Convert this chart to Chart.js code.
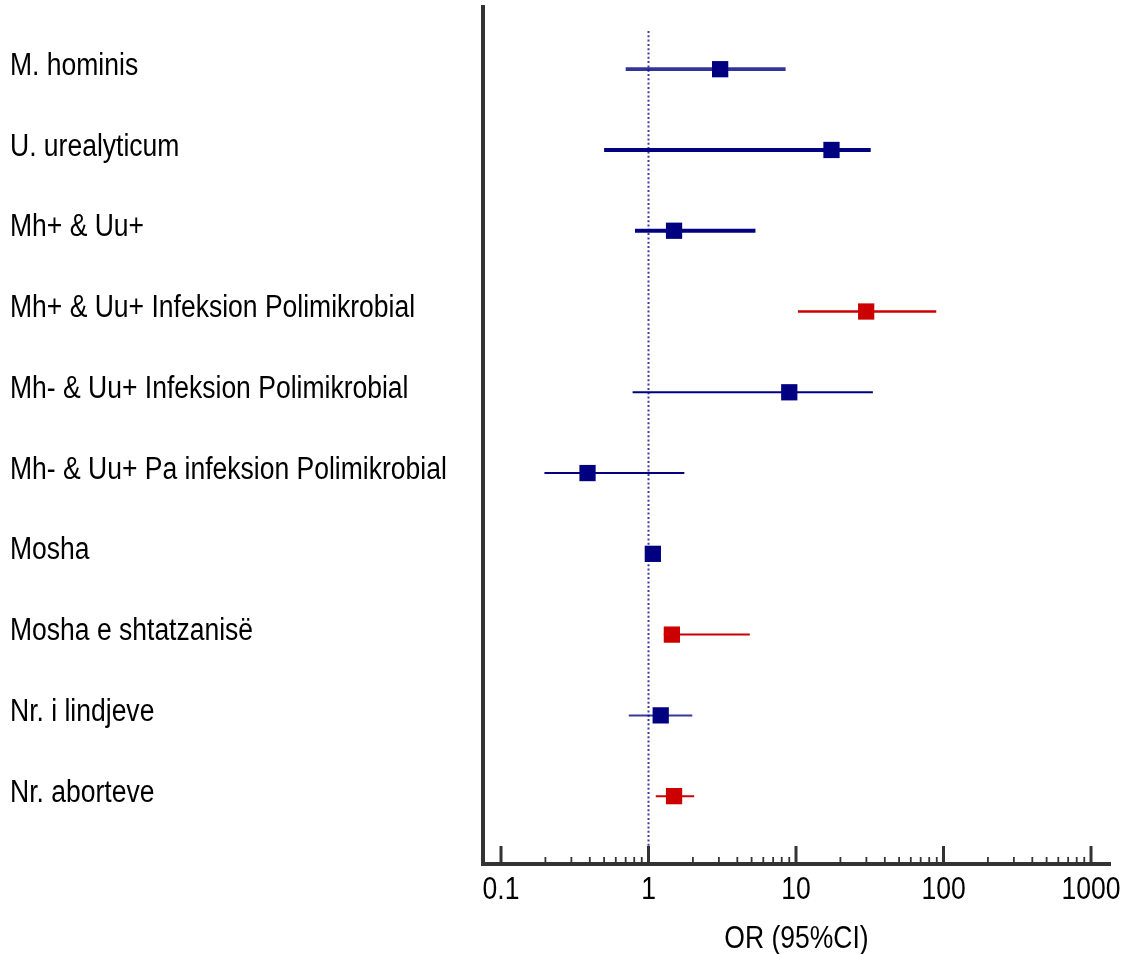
<!DOCTYPE html>
<html>
<head>
<meta charset="utf-8">
<script src="https://cdn.jsdelivr.net/npm/chart.js@4.4.1/dist/chart.umd.min.js"></script>
<style>
  body { margin: 0; background: #fff; }
  #wrap { width: 1126px; height: 954px; }
</style>
</head>
<body>
<div id="wrap"><canvas id="forestChart" width="1126" height="954"></canvas></div>
<script>
// Rows, top to bottom
const categories = [
    'M. hominis',
    'U. urealyticum',
    'Mh+ & Uu+',
    'Mh+ & Uu+ Infeksion Polimikrobial',
    'Mh- & Uu+ Infeksion Polimikrobial',
    'Mh- & Uu+ Pa infeksion Polimikrobial',
    'Mosha',
    'Mosha e shtatzanisë',
    'Nr. i lindjeve',
    'Nr. aborteve'
];
const oddsRatio = [3.06, 17.4, 1.49, 29.9, 9.0, 0.386, 1.07, 1.44, 1.21, 1.49];
const ciLower   = [0.70, 0.50, 0.81, 10.3, 0.78, 0.197, 1.03, 1.27, 0.735, 1.12];
const ciUpper   = [8.5, 32.1, 5.31, 89.3, 33.2, 1.75, 1.12, 4.86, 1.98, 2.04];
const significant = [false, false, false, true, false, false, false, true, false, true];
const xTicks = [0.1, 1, 10, 100, 1000];
const xTitle = 'OR (95%CI)';

// styles
const NAVY = '#000080';
const RED = '#cc0000';
const lineColors = ['rgba(0,0,128,0.8)', NAVY, NAVY, RED, NAVY, NAVY, NAVY, RED, 'rgba(0,0,128,0.78)', RED];
const lineWidths = [3.7, 4, 4, 2.4, 2, 2, 2, 2, 2, 2];
const FONT = '31px "Liberation Sans", Arial, sans-serif';
const NARROW = 0.855; // the original uses a condensed face

function narrowText(ctx, text, x, y, align) {
    ctx.save();
    ctx.translate(x, y);
    ctx.scale(NARROW, 1);
    ctx.font = FONT;
    ctx.fillStyle = '#000';
    ctx.textAlign = align;
    ctx.textBaseline = 'middle';
    ctx.fillText(text, 0, 0);
    ctx.restore();
}

// tick marks pointing up, dotted line at OR = 1, and the condensed labels
const forestDecor = {
    id: 'forestDecor',
    beforeDatasetsDraw(chart) {
        const ctx = chart.ctx;
        const x = chart.scales.x;
        const area = chart.chartArea;
        ctx.save();
        ctx.strokeStyle = '#3c3ca0';
        ctx.lineWidth = 2;
        ctx.setLineDash([2, 2.3]);
        ctx.beginPath();
        ctx.moveTo(x.getPixelForValue(1), area.top + 24);
        ctx.lineTo(x.getPixelForValue(1), area.bottom - 2);
        ctx.stroke();
        ctx.restore();
    },
    afterDraw(chart) {
        const ctx = chart.ctx;
        const x = chart.scales.x;
        const y = chart.scales.y;
        const base = chart.chartArea.bottom;
        ctx.save();
        ctx.strokeStyle = '#333';
        xTicks.forEach(function(t, i) {
            ctx.lineWidth = 3;
            let px = x.getPixelForValue(t);
            ctx.beginPath();
            ctx.moveTo(px, base);
            ctx.lineTo(px, base - 18);
            ctx.stroke();
            narrowText(ctx, String(t), px, base + 26, 'center');
            if (i === xTicks.length - 1) return;
            ctx.lineWidth = 1.8;
            for (let m = 2; m <= 9; m++) {
                px = x.getPixelForValue(t * m);
                ctx.beginPath();
                ctx.moveTo(px, base);
                ctx.lineTo(px, base - 7);
                ctx.stroke();
            }
        });
        ctx.restore();

        categories.forEach(function(c, i) {
            narrowText(ctx, c, y.left, y.getPixelForValue(i + 1) - 3, 'left');
        });
        narrowText(ctx, xTitle, (x.left + x.right) / 2, base + 75, 'center');
    }
};

const datasets = [{
    type: 'scatter',
    data: oddsRatio.map((v, i) => ({ x: v, y: i + 1 })),
    pointStyle: 'rect',
    pointRadius: 11.5,
    pointHoverRadius: 11.5,
    backgroundColor: significant.map(s => s ? RED : NAVY),
    borderWidth: 0
}];
categories.forEach(function(c, i) {
    datasets.push({
        type: 'line',
        data: [{ x: ciLower[i], y: i + 1 }, { x: ciUpper[i], y: i + 1 }],
        borderColor: lineColors[i],
        borderWidth: lineWidths[i],
        pointRadius: 0,
        fill: false
    });
});

new Chart(document.getElementById('forestChart'), {
    type: 'scatter',
    data: { datasets: datasets },
    plugins: [forestDecor],
    options: {
        responsive: false,
        animation: false,
        layout: { autoPadding: false, padding: { left: 10, top: 7, right: 16, bottom: 0 } },
        plugins: { legend: { display: false }, tooltip: { enabled: false } },
        scales: {
            x: {
                type: 'logarithmic',
                min: 0.0755,
                max: 1345,
                afterFit: function(scale) { scale.height = 90; },
                grid: { display: false },
                border: { display: true, color: '#333', width: 4 },
                ticks: { display: false }
            },
            y: {
                type: 'linear',
                reverse: true,
                min: 0.23,
                max: 10.84,
                afterFit: function(scale) { scale.width = 473; },
                grid: { display: false },
                border: { display: true, color: '#333', width: 4 },
                ticks: { display: false }
            }
        }
    }
});
</script>
</body>
</html>
